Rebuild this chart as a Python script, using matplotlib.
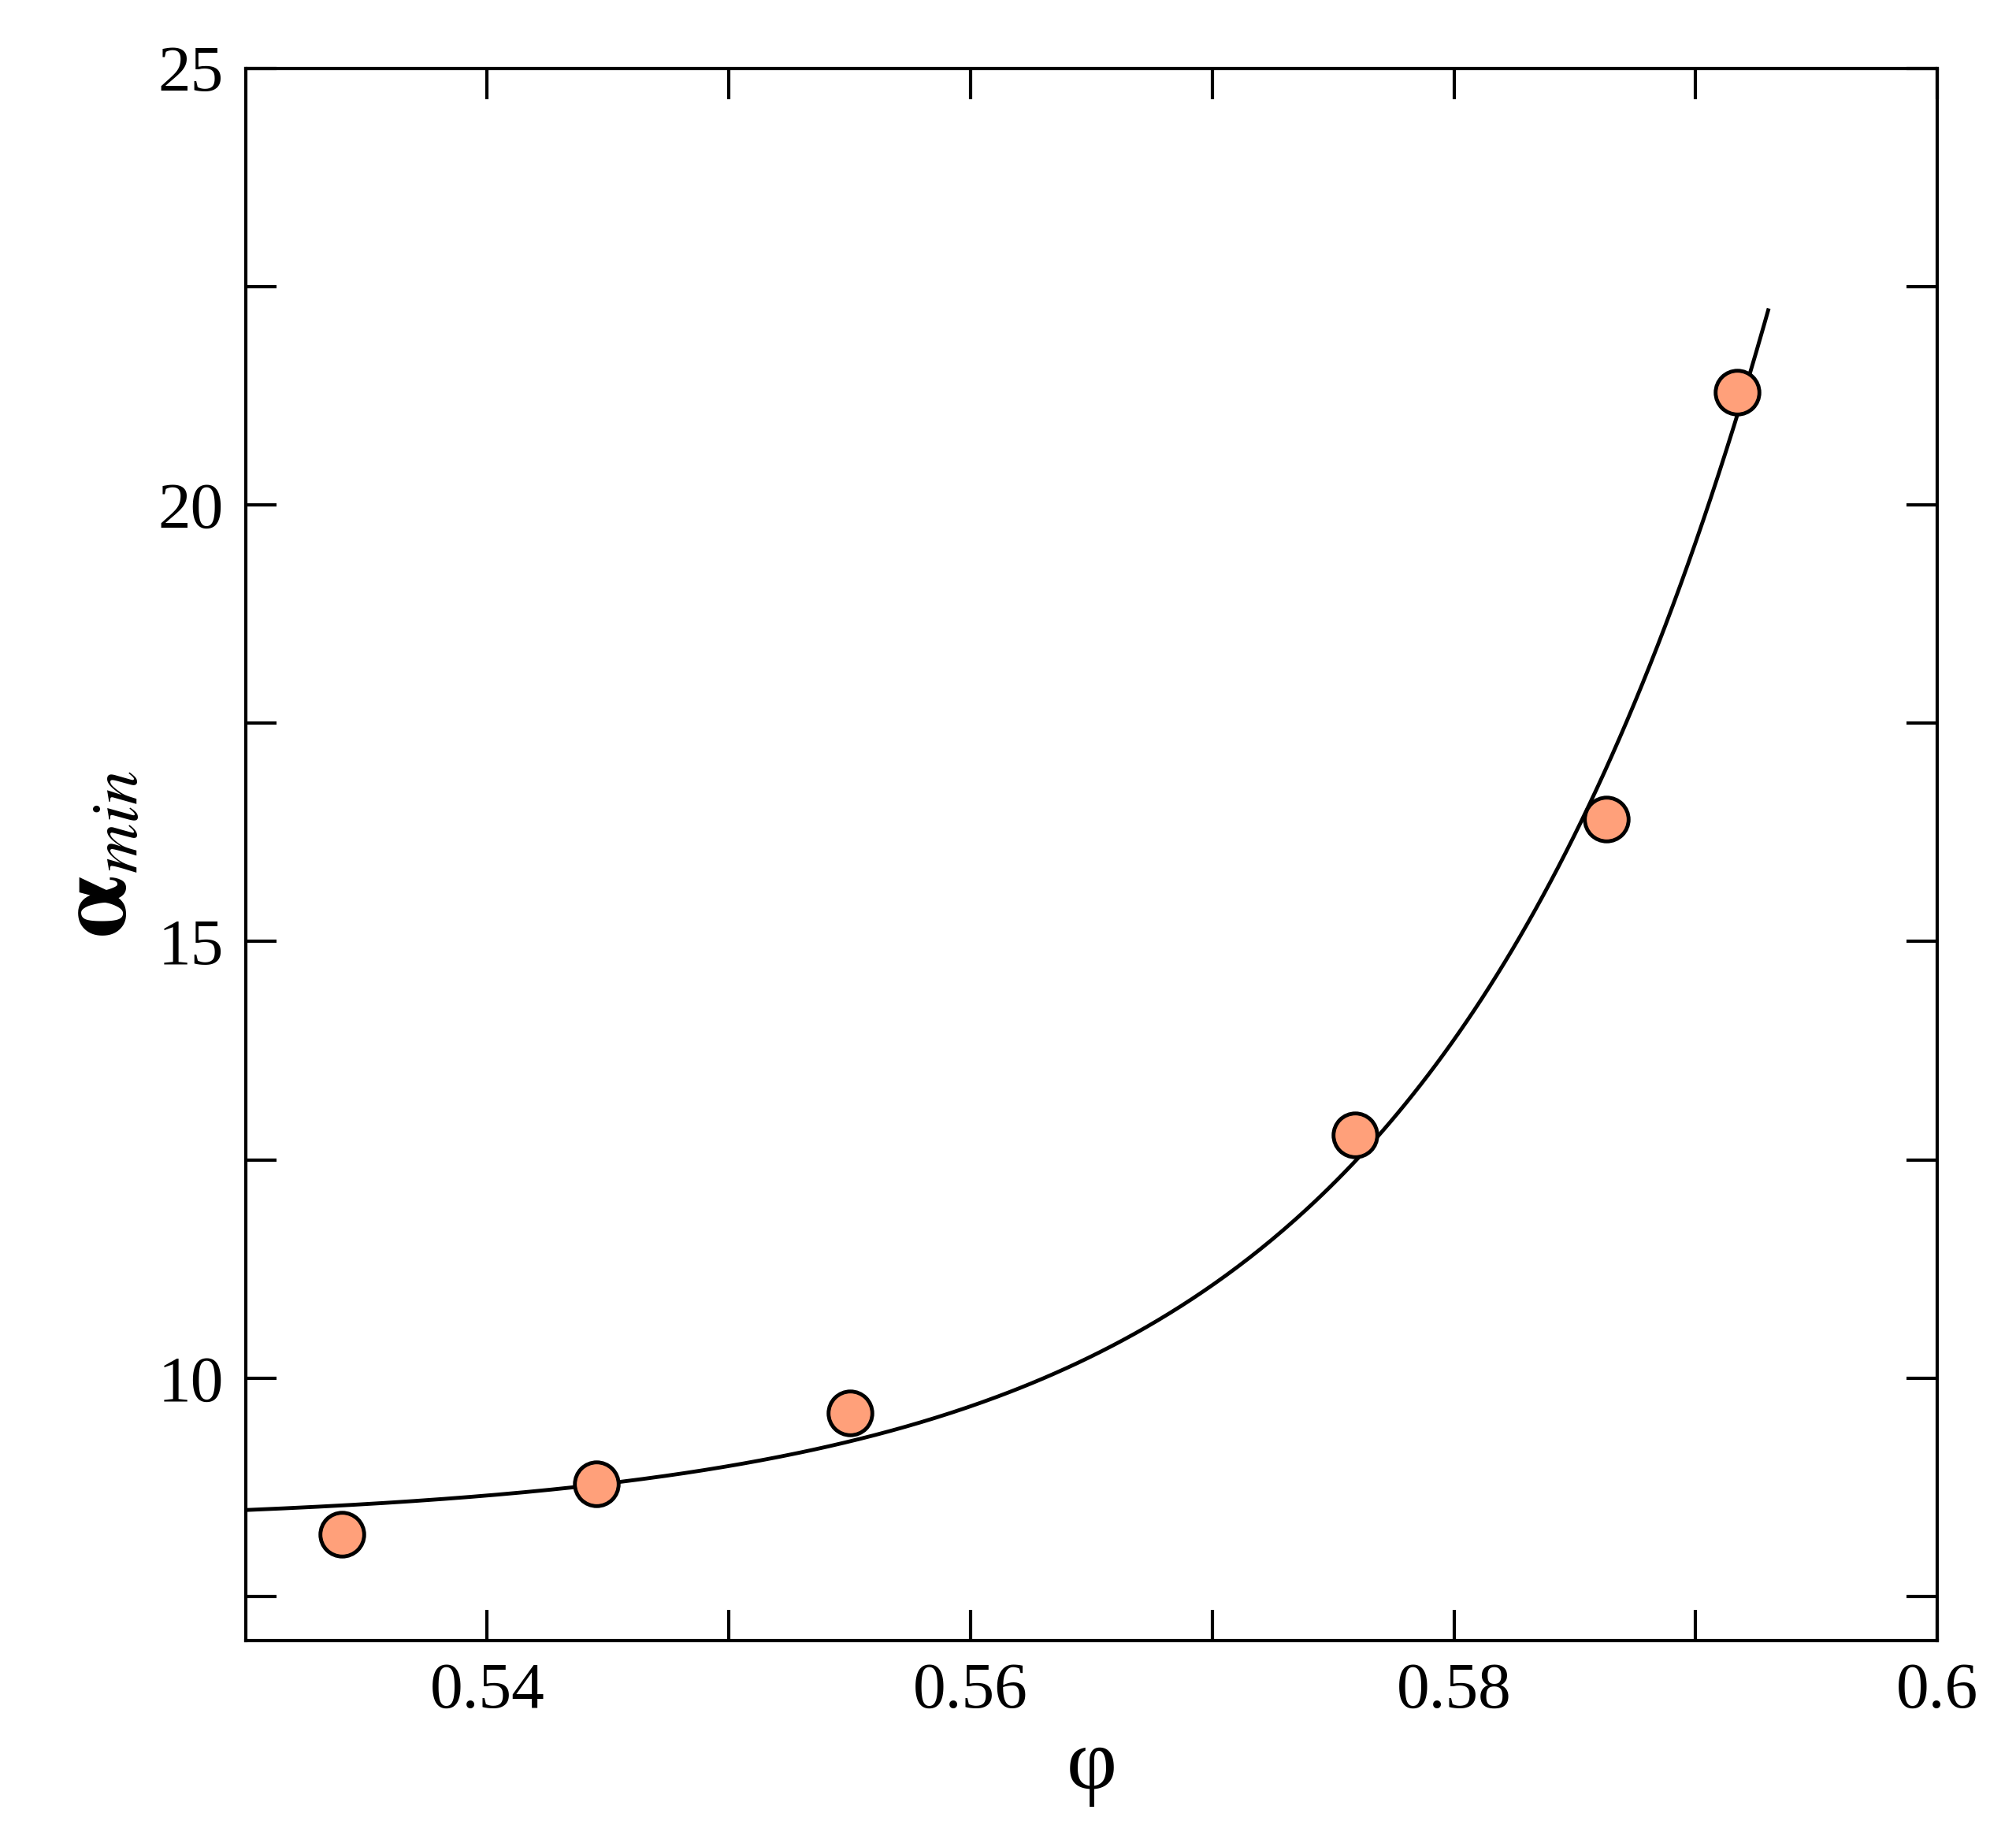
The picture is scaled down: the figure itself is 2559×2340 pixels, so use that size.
import numpy as np
import matplotlib
matplotlib.use("Agg")
import matplotlib.pyplot as plt
from matplotlib.ticker import MultipleLocator, FixedLocator

phi = [0.5340, 0.5445, 0.5550, 0.5759, 0.5863, 0.5917]
alpha_min = [8.21, 8.79, 9.60, 12.79, 16.40, 21.29]

plt.rcParams['font.family'] = ['Liberation Serif', 'DejaVu Serif']
plt.rcParams['mathtext.fontset'] = 'stix'

# fit a + b*exp(c*x)
x = np.array(phi); y = np.array(alpha_min)
best = None
for c in np.linspace(20, 150, 2601):
    A = np.vstack([np.ones_like(x), np.exp(c * (x - 0.53))]).T
    coef, *_ = np.linalg.lstsq(A, y, rcond=None)
    r = np.sum((A @ coef - y) ** 2)
    if best is None or r < best[0]:
        best = (r, c, coef)
_, c, (a, b) = best
xf = np.linspace(0.53, 0.593, 400)
yf = a + b * np.exp(c * (xf - 0.53))

fig = plt.figure(figsize=(25.59, 23.40), dpi=100)
ax = fig.add_axes([0.1218, 0.110, 0.8392, 0.853])
ax.plot(xf, yf, color='black', lw=3.5)
ax.plot(phi, alpha_min, 'o', ms=40, mfc='#ffa07a', mec='black', mew=3.5, ls='none')
ax.set_xlim(0.53, 0.6)
ax.set_ylim(7, 25)
ax.xaxis.set_major_locator(FixedLocator([0.54, 0.56, 0.58, 0.6]))
ax.xaxis.set_minor_locator(FixedLocator([0.55, 0.57, 0.59]))
ax.set_xticklabels(['0.54', '0.56', '0.58', '0.6'])
ax.yaxis.set_major_locator(MultipleLocator(5))
ax.yaxis.set_minor_locator(MultipleLocator(2.5))
ax.tick_params(which='both', direction='in', top=True, right=True, width=3, labelsize=60, pad=20)
ax.tick_params(which='major', length=28)
ax.tick_params(which='minor', length=28)
for s in ax.spines.values():
    s.set_linewidth(3)
ax.set_xlabel('φ', fontsize=80, labelpad=6)
ax.set_ylabel(r'$\mathbf{\alpha}_{min}$', fontsize=90, labelpad=10)
fig.savefig('out.png', dpi=100)
